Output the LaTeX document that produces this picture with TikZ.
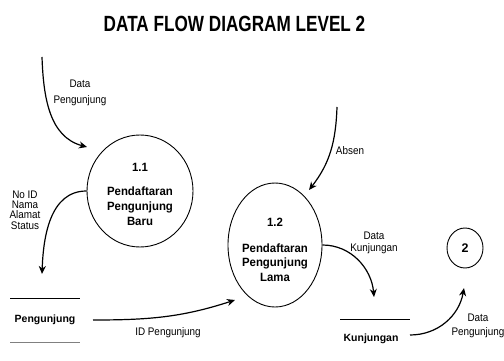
\documentclass[tikz,border=0pt]{standalone}
\usepackage{fontspec}
\usepackage{graphicx}
\setmainfont{Liberation Sans}
\newfontfamily\labelfont[FakeStretch=0.9]{Liberation Sans}
\newfontfamily\procfont[FakeStretch=0.95]{Liberation Sans}
\usetikzlibrary{arrows.meta,shapes.geometric}

\tikzset{
  process/.style={draw, ellipse, line width=0.9pt, inner sep=0pt},
  proctext/.style={align=center, inner sep=0pt,
                   font=\procfont\fontsize{12}{14.7}\selectfont\bfseries},
  flow/.style={line width=1.2pt, -{Stealth[length=8pt,width=7pt,inset=2.5pt]}},
  flowlabel/.style={align=center, inner sep=0pt, font=\labelfont\fontsize{11}{16}\selectfont},
  storename/.style={inner sep=0pt, font=\fontsize{10.5}{12}\selectfont\bfseries},
  storeline/.style={line width=1pt},
}

\begin{document}
\begin{tikzpicture}[x=1pt,y=-1pt]
  \useasboundingbox (0,0) rectangle (504,361);

  % title
  \node (title) at (234.5,23.5)
    {\scalebox{0.78}[1]{\bfseries\fontsize{22}{22}\selectfont DATA FLOW DIAGRAM LEVEL 2}};

  % processes
  \node[process, minimum width=106pt, minimum height=112pt] (p11) at (140,191) {};
  \node[proctext] (t11) at (140,194) {1.1\\[10pt]Pendaftaran\\Pengunjung\\Baru};

  \node[process, minimum width=94pt, minimum height=124pt] (p12) at (275,245) {};
  \node[proctext] (t12) at (275,250) {1.2\\[11pt]Pendaftaran\\Pengunjung\\Lama};

  \node[process, minimum width=36pt, minimum height=40pt,
        font=\fontsize{12.5}{12.5}\selectfont\bfseries] (p2) at (465,248) {2};

  % data stores
  \node[storename] (dsP) at (45,320) {Pengunjung};
  \draw[storeline] (10,298) -- (80,298);
  \draw[storeline, gray] (10,342) -- (80,342);

  \node[storename] (dsK) at (371,339) {Kunjungan};
  \draw[storeline] (340,319) -- (410,319);

  % flow end points
  \coordinate (inTop)   at (42,57);
  \coordinate (tip11)   at (87,147);
  \coordinate (tipStoreP) at (42,274);
  \coordinate (outStoreP) at (93,320);
  \coordinate (tip12low) at (235,300);
  \coordinate (inAbsen) at (337,107);
  \coordinate (tip12top) at (309,190);
  \coordinate (tipStoreK) at (374,297);
  \coordinate (outStoreK) at (410,335);
  \coordinate (tip2) at (464,288);

  % flows
  \draw[flow] (inTop) to[out=-88, in=165] (tip11);
  \node[flowlabel] (lDataP) at (80,93) {Data\\Pengunjung};

  \draw[flow] (p11.west) to[out=180, in=88] (tipStoreP);
  \node[flowlabel, font=\labelfont\fontsize{11}{10.3}\selectfont] (lAttr) at (25,210)
    {No ID\\Nama\\Alamat\\Status};

  \draw[flow] (outStoreP) to[out=0, in=198] (tip12low);
  \node[flowlabel] (lId) at (168,333) {ID Pengunjung};

  \draw[flow] (inAbsen) to[out=-92, in=52] (tip12top);
  \node[flowlabel] (lAbsen) at (350,151) {Absen};

  \draw[flow] (p12.east) to[out=0, in=95] (tipStoreK);
  \node[flowlabel, font=\labelfont\fontsize{11}{12}\selectfont] (lDataK) at (374,243) {Data\\Kunjungan};

  \draw[flow] (outStoreK) to[out=0, in=-100] (tip2);
  \node[flowlabel, font=\labelfont\fontsize{11}{13.5}\selectfont] (lDataP2) at (478,326) {Data\\Pengunjung};
\end{tikzpicture}
\end{document}
